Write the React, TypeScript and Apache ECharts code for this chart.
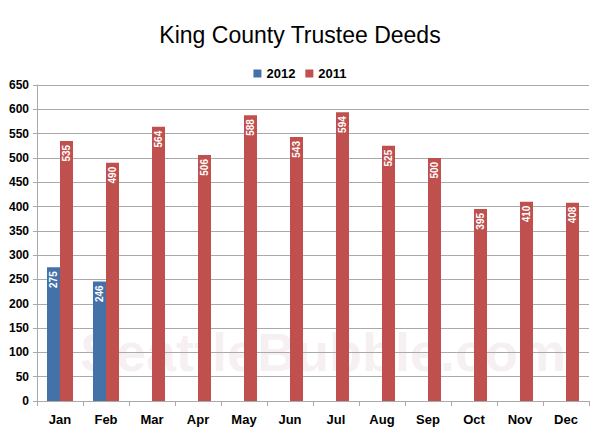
import React, { useEffect, useRef } from "react";
import * as echarts from "echarts";

const months = ["Jan", "Feb", "Mar", "Apr", "May", "Jun", "Jul", "Aug", "Sep", "Oct", "Nov", "Dec"];
const values2012: (number | null)[] = [275, 246, null, null, null, null, null, null, null, null, null, null];
const values2011 = [535, 490, 564, 506, 588, 543, 594, 525, 500, 395, 410, 408];

const FONT = "'Liberation Sans', Arial, sans-serif";

export default function App() {
  const ref = useRef<HTMLDivElement>(null);
  useEffect(() => {
    if (!ref.current) return;
    const chart = echarts.init(ref.current, null, { renderer: "svg" });
    const label = {
      show: true,
      position: "insideTop" as const,
      rotate: 90,
      align: "right" as const,
      verticalAlign: "middle" as const,
      distance: 4,
      color: "#fff",
      fontSize: 10,
      fontFamily: FONT,
      fontWeight: "bold" as const,
    };
    chart.setOption({
      animation: false,
      backgroundColor: "#fff",
      title: {
        text: "King County Trustee Deeds",
        left: "center",
        top: 18,
        textStyle: { fontFamily: FONT, fontSize: 23, fontWeight: "normal", color: "#000" },
      },
      legend: {
        top: 62,
        left: "center",
        itemWidth: 8,
        itemHeight: 8,
        itemGap: 10,
        icon: "rect",
        textStyle: { fontFamily: FONT, fontSize: 13, fontWeight: "bold", color: "#000" },
        data: ["2012", "2011"],
      },
      graphic: [
        {
          type: "text",
          left: 80,
          top: 325,
          z: -10,
          silent: true,
          style: {
            text: "SeattleBubble.com",
            fontFamily: FONT,
            fontWeight: "bold",
            fontSize: 54,
            fill: "#f6f0f2",
          },
        },
      ],
      grid: { left: 37, right: 11, top: 85, bottom: 35 },
      xAxis: {
        type: "category",
        data: months,
        axisLine: { lineStyle: { color: "#aaa" } },
        axisTick: { show: true, length: 5, lineStyle: { color: "#aaa" } },
        axisLabel: { fontFamily: FONT, fontSize: 13, fontWeight: "bold", color: "#000", margin: 12 },
      },
      yAxis: {
        type: "value",
        min: 0,
        max: 650,
        interval: 50,
        axisLine: { show: true, lineStyle: { color: "#aaa" } },
        axisTick: { show: true, length: 4, lineStyle: { color: "#aaa" } },
        splitLine: { lineStyle: { color: "#aaa" } },
        axisLabel: { fontFamily: FONT, fontSize: 12, fontWeight: "bold", color: "#000", margin: 8 },
      },
      series: [
        {
          name: "2012",
          type: "bar",
          data: values2012,
          barWidth: 13,
          barGap: "0%",
          itemStyle: { color: "#4472A8" },
          label,
          z: 2,
        },
        {
          name: "2011",
          type: "bar",
          data: values2011,
          barWidth: 13,
          barGap: "0%",
          itemStyle: { color: "#C0504D" },
          label,
          z: 2,
        },
      ],
    });
    return () => chart.dispose();
  }, []);
  return <div ref={ref} style={{ width: 600, height: 436, margin: -8 }} />;
}
